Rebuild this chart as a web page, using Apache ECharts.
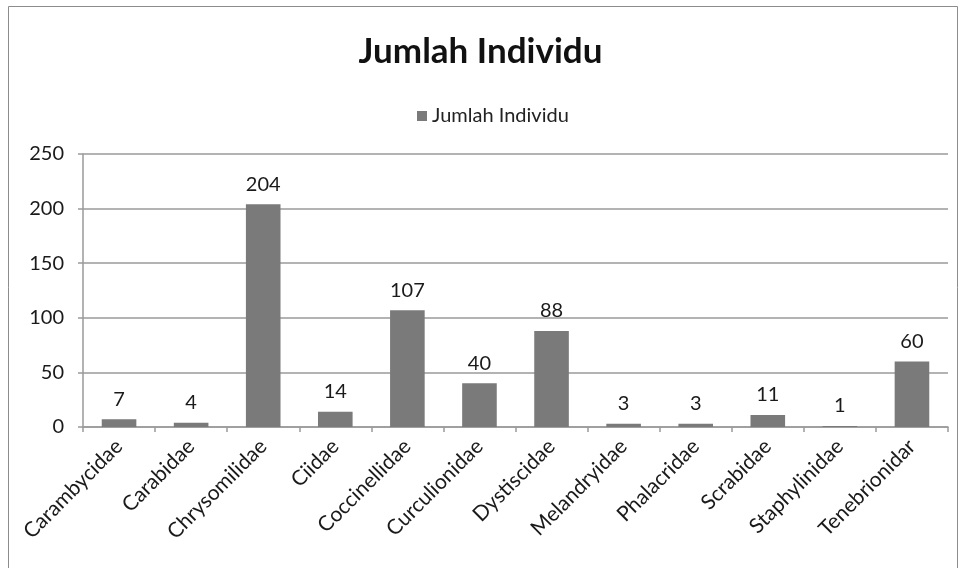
<!DOCTYPE html>
<html><head><meta charset="utf-8">
<script src="https://cdn.jsdelivr.net/npm/echarts@6/dist/echarts.min.js"></script>
<style>html,body{margin:0;padding:0;background:#fff}#c{width:961px;height:568px}</style>
</head><body><div id="c"></div>
<script>
const categories = ['Carambycidae','Carabidae','Chrysomilidae','Ciidae','Coccinellidae','Curculionidae','Dystiscidae','Melandryidae','Phalacridae','Scrabidae','Staphylinidae','Tenebrionidar'];
const values = [7,4,204,14,107,40,88,3,3,11,1,60];
const seriesName = 'Jumlah Individu';
const chart = echarts.init(document.getElementById('c'));
const font = 'Lato, "Open Sans", sans-serif';
chart.setOption({
  animation:false,
  textStyle:{fontFamily:font},
  graphic:[{type:'rect',shape:{x:8.5,y:6.5,width:949,height:580},style:{fill:'none',stroke:'#8c8c8c',lineWidth:1},silent:true}],
  title:{text:'Jumlah Individu',left:'center',top:29,textStyle:{fontFamily:font,fontSize:35,fontWeight:'bold',color:'#111'}},
  legend:{data:[seriesName],top:101,left:412,itemWidth:10,itemHeight:10,icon:'rect',itemGap:6,textStyle:{fontFamily:font,fontSize:20,color:'#222'}},
  grid:{left:83,right:13,top:154,bottom:141,containLabel:false},
  xAxis:{type:'category',data:categories,
    axisLine:{lineStyle:{color:'#9a9a9a',width:1.5}},
    axisTick:{show:true,length:5,lineStyle:{color:'#9a9a9a',width:1.5}},
    axisLabel:{rotate:45,fontSize:21,color:'#1a1a1a',margin:16,interval:0,fontFamily:font}},
  yAxis:{type:'value',min:0,max:250,interval:50,
    axisLine:{show:true,lineStyle:{color:'#9a9a9a',width:1.5}},
    axisTick:{show:true,length:5,lineStyle:{color:'#9a9a9a',width:1.5}},
    splitLine:{lineStyle:{color:'#9a9a9a',width:1.5}},
    axisLabel:{fontSize:20,color:'#1a1a1a',margin:19,fontFamily:font}},
  series:[{name:seriesName,type:'bar',data:values,barWidth:'48%',
    itemStyle:{color:'#7a7a7a'},
    label:{show:true,position:'top',distance:10,fontSize:20,color:'#1a1a1a',fontFamily:font}}]
});
</script></body></html>
